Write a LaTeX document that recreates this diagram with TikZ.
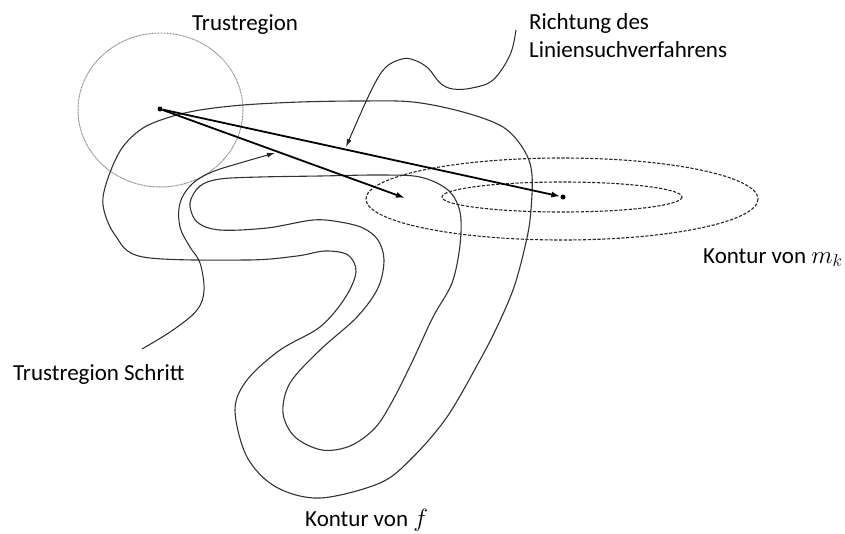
\documentclass[tikz,border=0pt]{standalone}
\usepackage{fontspec}
\setmainfont{Carlito}
\usetikzlibrary{arrows.meta}
\begin{document}
\begin{tikzpicture}[x=1pt,y=-1pt,
  contour/.style={draw=black!80,line width=1.1pt,line join=round},
  modelcontour/.style={draw=black!85,line width=1.1pt,dash pattern=on 3.2pt off 1.6pt},
  trcircle/.style={draw=black!45,line width=1pt,dash pattern=on 0.9pt off 0.6pt},
  steparrow/.style={draw=black,line width=1.8pt,-{Latex[length=9pt,width=6pt]}},
  callout/.style={draw=black!85,line width=1pt,-{Latex[length=8pt,width=5pt]}},
  dot/.style={circle,fill=black,inner sep=0pt,minimum size=5pt},
  label/.style={inner sep=0pt,anchor=base west,font=\fontsize{23}{28}\selectfont}]
\useasboundingbox (0,0) rectangle (845,533);

% trust region around the current iterate
\draw[trcircle] (160.5,110) ellipse [x radius=82.5, y radius=77];

% level sets of the model m_k
\draw[modelcontour] (562,199) ellipse [x radius=196, y radius=41];
\draw[modelcontour] (562,197) ellipse [x radius=120, y radius=15];

% level sets of f (two nested closed curves)
\draw[contour] plot[smooth cycle,tension=0.55] coordinates {
  (143,128) (170,117) (200,110) (243,105) (300,102) (360,101) (413,102)
  (463,112) (503,127) (524,150) (532,175) (530,220) (523,255) (513,290)
  (497,327) (480,360) (447,417) (412,458) (380,483) (320,498) (276,487)
  (247,457) (235,410) (247,380) (280,350) (320,327) (345,298) (356,272)
  (348,255) (325,251) (297,256) (247,260) (143,257) (115,235) (103,205)
  (108,178) (122,148)};
\draw[contour] plot[smooth cycle,tension=0.55] coordinates {
  (190,203) (200,186) (220,179) (260,177) (320,176) (380,175) (420,177)
  (448,190) (460,212) (460,245) (452,283) (433,317) (413,360) (393,400)
  (375,428) (350,446) (322,450) (295,437) (283,413) (290,383) (320,350)
  (357,317) (378,288) (384,260) (378,240) (363,228) (340,222) (313,220)
  (267,228) (220,230) (197,222)};

% iterate and the two steps
\node[dot] (xk) at (160,109) {};
\node[dot] (xls) at (563,197) {};
\coordinate (xtr) at (405,198);
\draw[steparrow] (xk) -- (xtr);
\draw[steparrow] (xk) -- (xls);

% labels
\node[label] (ltr) at (192,30) {Trustregion};
\node[label] (lrich1) at (529,29) {Richtung des};
\node[label] (lrich2) at (529,57) {Liniensuchverfahrens};
\node[label] (lmk) at (703,263) {Kontur von $m_k$};
\node[label] (ltrs) at (13,380) {Trustregion Schritt};
\node[label] (lf) at (305,526) {Kontur von $f$};

% callout lines
\coordinate (c1s) at (516,30);
\coordinate (c1e) at (346,147);
\draw[callout] (c1s) plot[smooth,tension=0.6] coordinates {
  (516,30) (510,55) (493,80) (472,88) (453,89) (440,83) (428,68) (414,60)
  (402,59) (385,68) (370,93) (346,147)};
\coordinate (c2s) at (142,349);
\coordinate (c2e) at (275,153);
\draw[callout] (c2s) plot[smooth,tension=0.6] coordinates {
  (142,349) (173,330) (197,310) (204,290) (200,263) (190,247) (180,227)
  (180,203) (192,184) (212,172) (240,163) (275,153)};
\end{tikzpicture}
\end{document}
